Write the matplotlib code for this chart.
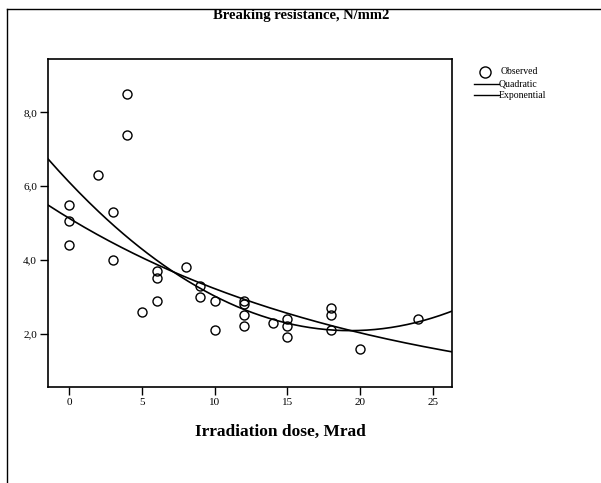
import numpy as np
import matplotlib.pyplot as plt
from matplotlib.lines import Line2D

plt.rcParams['font.family'] = ['Liberation Serif', 'DejaVu Serif']

dose = [0, 0, 0, 2, 3, 3, 4, 4, 5, 6, 6, 6, 8, 9, 9, 10, 10,
        12, 12, 12, 12, 14, 15, 15, 15, 18, 18, 18, 20, 24]
resistance = [5.5, 5.05, 4.4, 6.3, 5.3, 4.0, 8.5, 7.4, 2.6, 3.7, 3.5, 2.9, 3.8, 3.3, 3.0, 2.9, 2.1,
              2.9, 2.8, 2.5, 2.2, 2.3, 2.4, 2.2, 1.9, 2.7, 2.5, 2.1, 1.6, 2.4]

# fitted model coefficients, estimated from the drawn curves
quad_coef = [6.11, -0.417, 0.0108]      # b0 + b1*x + b2*x^2
exp_coef = [5.13, -0.0465]              # b0 * exp(b1*x)

x_ticks = [0, 5, 10, 15, 20, 25]
y_ticks = [2, 4, 6, 8]
y_tick_labels = ['2,0', '4,0', '6,0', '8,0']

xlim = (-1.45, 26.3)
xs = np.linspace(xlim[0], xlim[1], 200)
quad_y = quad_coef[0] + quad_coef[1] * xs + quad_coef[2] * xs ** 2
exp_y = exp_coef[0] * np.exp(exp_coef[1] * xs)

fig = plt.figure(figsize=(6.01, 4.83), dpi=100)
ax = fig.add_axes([0.080, 0.199, 0.672, 0.679])

ax.plot(dose, resistance, 'o', ms=6.5, mfc='none', mec='black', mew=1.0, clip_on=False)
ax.plot(xs, quad_y, color='black', lw=1.2)
ax.plot(xs, exp_y, color='black', lw=1.2)

ax.set_xlim(*xlim)
ax.set_ylim(0.56, 9.45)
ax.set_xticks(x_ticks)
ax.set_yticks(y_ticks)
ax.set_yticklabels(y_tick_labels)
ax.tick_params(direction='out', length=6, width=1, labelsize=8, pad=2)
for s in ax.spines.values():
    s.set_linewidth(1.2)

# outer frame (left and top only)
fig.add_artist(Line2D([7/601, 7/601], [0, 1 - 9/483], transform=fig.transFigure, color='black', lw=1))
fig.add_artist(Line2D([7/601, 1], [1 - 9/483, 1 - 9/483], transform=fig.transFigure, color='black', lw=1))

fig.text(301/601, 1 - 15/483, 'Breaking resistance, N/mm2', ha='center', va='center',
         fontsize=10.5, fontweight='bold')
fig.text(280/601, 1 - 432/483, 'Irradiation dose, Mrad', ha='center', va='center',
         fontsize=12.5, fontweight='bold')

# legend
fig.add_artist(Line2D([485/601], [1 - 72/483], marker='o', ms=8, mfc='none', mec='black',
                      mew=1.0, transform=fig.transFigure))
fig.text(501/601, 1 - 71/483, 'Observed', fontsize=7, va='center')
for yy, lab in [(84, 'Quadratic'), (95, 'Exponential')]:
    fig.add_artist(Line2D([474/601, 499/601], [1 - yy/483] * 2, color='black', lw=1,
                          transform=fig.transFigure))
    fig.text(499/601, 1 - yy/483, lab, fontsize=7, va='center')

fig.savefig('out.png', dpi=100)
